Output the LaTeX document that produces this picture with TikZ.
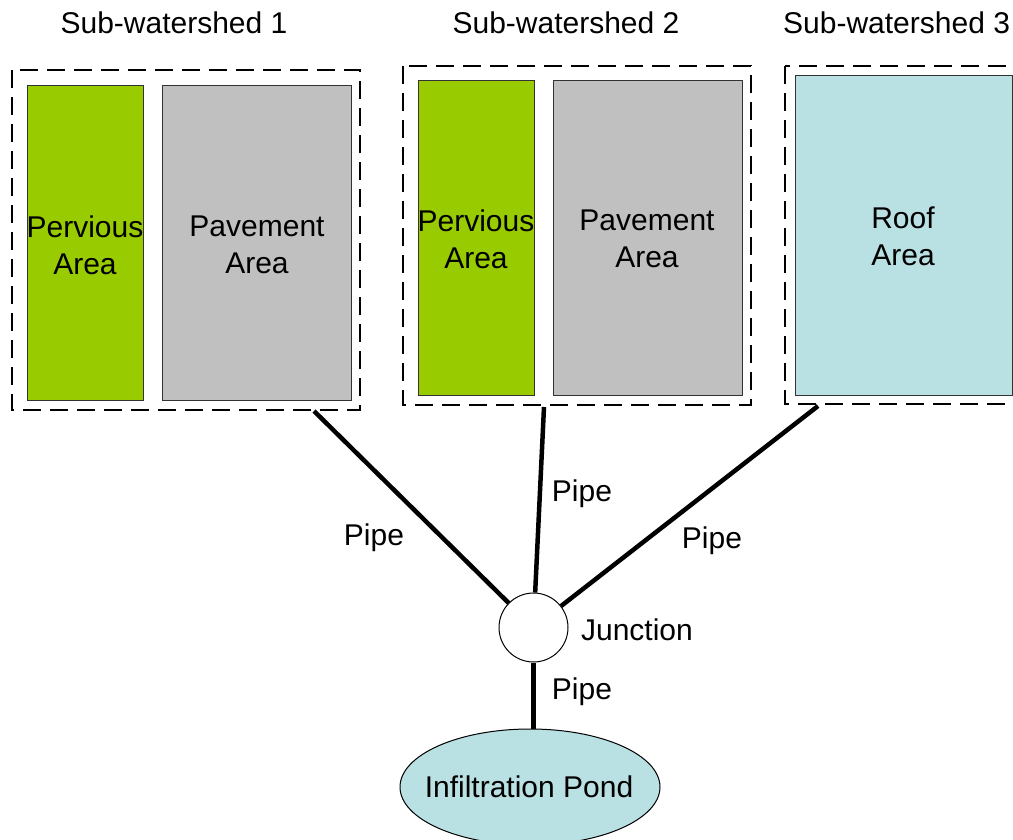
\documentclass[tikz,border=0pt]{standalone}
\usepackage{fontspec}
\setmainfont{Liberation Sans}
\usetikzlibrary{shapes.geometric}
\definecolor{pgreen}{HTML}{99CC00}
\definecolor{pgray}{HTML}{C0C0C0}
\definecolor{pblue}{HTML}{B9E0E3}
\begin{document}
\begin{tikzpicture}[x=1pt,y=-1pt,
  lbl/.style={font=\fontsize{30}{37}\selectfont, inner sep=0pt, align=center},
  area/.style={draw=black!80, line width=1pt},
  shed/.style={draw=black, line width=2.8pt, dash pattern=on 18pt off 9pt},
  pipe/.style={draw=black, line width=4.5pt}]
\useasboundingbox (0,0) rectangle (1013,839);
\clip (0,0) rectangle (1013,839);
\fill[white] (0,0) rectangle (1013,839);
% sub-watershed 1
\node[lbl] (t1) at (174,23) {Sub-watershed 1};
\draw[shed] (12,70) rectangle (360,410);
\draw[area, fill=pgreen] (27,85) rectangle (143,400);
\draw[area, fill=pgray] (162,85) rectangle (351,400);
\node[lbl] (pv1) at (85,245) {Pervious\\Area};
\node[lbl] (pa1) at (257,245) {Pavement\\Area};
% sub-watershed 2
\node[lbl] (t2) at (566,23) {Sub-watershed 2};
\draw[shed] (403,66) rectangle (751,405);
\draw[area, fill=pgreen] (418,80) rectangle (534,395);
\draw[area, fill=pgray] (553,80) rectangle (742,395);
\node[lbl] (pv2) at (476,239) {Pervious\\Area};
\node[lbl] (pa2) at (647,239) {Pavement\\Area};
% sub-watershed 3
\node[lbl, anchor=west] (t3) at (783,23) {Sub-watershed 3};
\draw[shed] (785,66) rectangle (1030,404);
\draw[area, fill=pblue] (795,75) rectangle (1012,395);
\node[lbl] (ra) at (903,236) {Roof\\Area};
% junction and pond
\node[circle, draw=black, line width=1pt, fill=white, minimum size=69pt, inner sep=0pt] (junc) at (533.5,627.5) {};
\node[ellipse, draw=black, line width=1pt, fill=pblue, minimum width=260pt, minimum height=116pt, inner sep=0pt] (pond) at (530,787) {};
\node[lbl] (pondt) at (529,787) {Infiltration Pond};
\coordinate (o1) at (314,411);
\coordinate (o2) at (544,407);
\coordinate (o3) at (818,406);
\draw[pipe] (o1) -- (junc);
\draw[pipe] (o2) -- (junc);
\draw[pipe] (o3) -- (junc);
\draw[pipe] (junc.south) -- (junc.south |- pond.north);
% labels
\node[lbl] (l1) at (374,538) {Pipe};
\node[lbl] (l2) at (582,494) {Pipe};
\node[lbl] (l3) at (712,541) {Pipe};
\node[lbl] (l4) at (582,692) {Pipe};
\node[lbl] (lj) at (637,630) {Junction};
\end{tikzpicture}
\end{document}
